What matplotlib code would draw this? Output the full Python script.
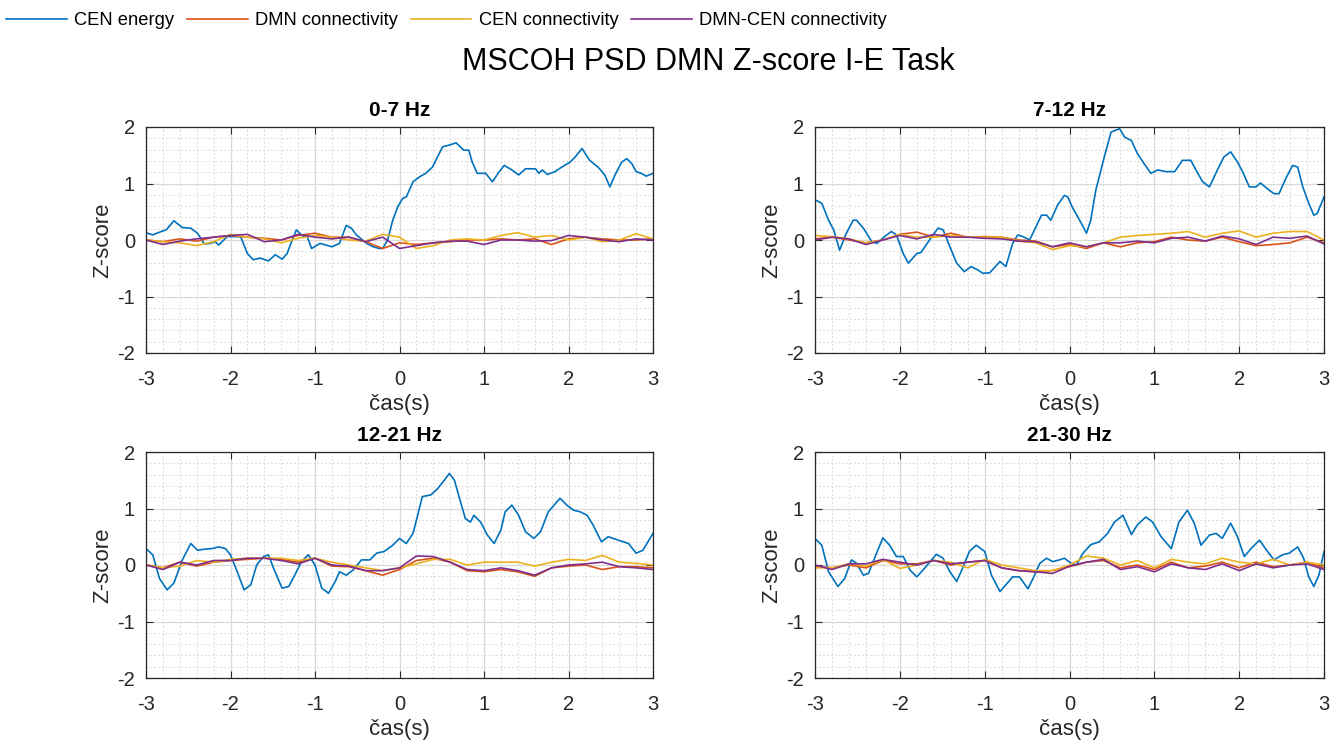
import numpy as np
import matplotlib
matplotlib.use('Agg')
import matplotlib.pyplot as plt
from matplotlib.ticker import MultipleLocator

plt.rcParams['font.family'] = ['Liberation Sans', 'DejaVu Sans']
plt.rcParams['axes.unicode_minus'] = False

"""
Z-score time courses per band, -3..3 s around the event
"""
bands = ['0-7 Hz', '7-12 Hz', '12-21 Hz', '21-30 Hz']
series_names = ['CEN energy', 'DMN connectivity', 'CEN connectivity', 'DMN-CEN connectivity']
colors = ['#0072BD', '#D95319', '#EDB120', '#7E2F8E']

# CEN energy (sampled at its turning points)
t_energy_0 = [-3.0, -2.92, -2.82, -2.76, -2.67, -2.57, -2.47, -2.39, -2.31, -2.24, -2.18, -2.14, -2.04, -1.88,
              -1.8, -1.73, -1.65, -1.55, -1.47, -1.39, -1.33, -1.27, -1.22, -1.14, -1.1, -1.04, -0.94, -0.8,
              -0.71, -0.63, -0.57, -0.51, -0.39, -0.31, -0.24, -0.2, -0.14, -0.08, -0.02, 0.04, 0.08, 0.16,
              0.24, 0.31, 0.39, 0.45, 0.51, 0.59, 0.67, 0.76, 0.82, 0.86, 0.92, 1.02, 1.1, 1.18, 1.24, 1.33,
              1.41, 1.49, 1.61, 1.65, 1.69, 1.75, 1.84, 1.92, 2.02, 2.08, 2.16, 2.25, 2.35, 2.43, 2.49, 2.55,
              2.63, 2.69, 2.75, 2.8, 2.86, 2.92, 3.0]
energy_0 = [0.13, 0.09, 0.15, 0.18, 0.34, 0.22, 0.21, 0.12, -0.07, -0.06, -0.03, -0.09, 0.06, 0.06,
            -0.24, -0.35, -0.32, -0.37, -0.26, -0.34, -0.24, 0.0, 0.18, 0.06, 0.09, -0.15, -0.06, -0.12,
            -0.06, 0.26, 0.21, 0.09, -0.06, -0.12, -0.15, -0.15, 0.0, 0.35, 0.59, 0.74, 0.76, 1.03,
            1.12, 1.18, 1.29, 1.47, 1.65, 1.68, 1.72, 1.59, 1.59, 1.38, 1.18, 1.18, 1.03, 1.21, 1.32, 1.24,
            1.15, 1.26, 1.26, 1.18, 1.24, 1.16, 1.21, 1.29, 1.38, 1.47, 1.62, 1.41, 1.29, 1.15, 0.94, 1.15,
            1.38, 1.44, 1.35, 1.21, 1.18, 1.13, 1.18]

t_energy_1 = [-3.0, -2.92, -2.84, -2.78, -2.71, -2.63, -2.55, -2.51, -2.43, -2.33, -2.27, -2.18, -2.1, -2.04,
              -1.96, -1.9, -1.8, -1.75, -1.65, -1.55, -1.49, -1.41, -1.33, -1.24, -1.16, -1.08, -1.02, -0.94,
              -0.82, -0.75, -0.67, -0.61, -0.55, -0.47, -0.33, -0.27, -0.22, -0.14, -0.06, -0.02, 0.04, 0.12,
              0.2, 0.25, 0.31, 0.41, 0.49, 0.59, 0.65, 0.73, 0.8, 0.88, 0.96, 1.04, 1.14, 1.24, 1.33, 1.43,
              1.49, 1.57, 1.65, 1.75, 1.82, 1.9, 1.98, 2.04, 2.12, 2.2, 2.25, 2.33, 2.41, 2.47, 2.55, 2.63,
              2.69, 2.75, 2.82, 2.88, 2.92, 3.0]
energy_1 = [0.71, 0.65, 0.35, 0.18, -0.18, 0.12, 0.35, 0.35, 0.21, -0.03, -0.06, 0.06, 0.15, 0.09,
            -0.24, -0.41, -0.24, -0.22, 0.0, 0.21, 0.18, -0.12, -0.41, -0.56, -0.47, -0.53, -0.59, -0.58,
            -0.38, -0.47, -0.06, 0.09, 0.06, 0.0, 0.44, 0.44, 0.35, 0.62, 0.79, 0.76, 0.56, 0.35,
            0.12, 0.35, 0.88, 1.47, 1.91, 1.97, 1.82, 1.76, 1.53, 1.35, 1.18, 1.24, 1.21, 1.21, 1.41, 1.41,
            1.24, 1.03, 0.94, 1.26, 1.47, 1.56, 1.38, 1.21, 0.94, 0.94, 1.01, 0.91, 0.82, 0.82, 1.09, 1.32,
            1.29, 0.94, 0.65, 0.44, 0.47, 0.76]

t_energy_2 = [-3.0, -2.92, -2.84, -2.75, -2.67, -2.57, -2.47, -2.39, -2.31, -2.22, -2.14, -2.06, -2.0, -1.92,
              -1.84, -1.76, -1.69, -1.61, -1.55, -1.49, -1.39, -1.31, -1.24, -1.16, -1.08, -1.0, -0.92, -0.84,
              -0.76, -0.71, -0.63, -0.55, -0.45, -0.35, -0.27, -0.18, -0.08, 0.0, 0.08, 0.16, 0.22, 0.27,
              0.37, 0.45, 0.53, 0.59, 0.65, 0.71, 0.78, 0.84, 0.88, 0.96, 1.04, 1.12, 1.2, 1.25, 1.33, 1.41,
              1.49, 1.59, 1.67, 1.76, 1.9, 1.98, 2.06, 2.14, 2.22, 2.29, 2.39, 2.47, 2.59, 2.71, 2.8, 2.88, 3.0]
energy_2 = [0.29, 0.18, -0.24, -0.44, -0.32, 0.09, 0.38, 0.26, 0.28, 0.29, 0.32, 0.29, 0.18, -0.12,
            -0.44, -0.35, 0.0, 0.15, 0.18, -0.06, -0.41, -0.38, -0.18, 0.06, 0.18, 0.0, -0.41, -0.5,
            -0.29, -0.12, -0.18, -0.09, 0.09, 0.09, 0.21, 0.24, 0.35, 0.47, 0.38, 0.56, 0.91, 1.21,
            1.24, 1.35, 1.5, 1.62, 1.5, 1.18, 0.82, 0.76, 0.88, 0.76, 0.53, 0.38, 0.62, 0.94, 1.06, 0.88,
            0.59, 0.47, 0.59, 0.94, 1.18, 1.06, 0.97, 0.94, 0.88, 0.71, 0.41, 0.5, 0.44, 0.38, 0.21, 0.26, 0.56]

t_energy_3 = [-3.0, -2.92, -2.84, -2.73, -2.65, -2.57, -2.51, -2.43, -2.37, -2.29, -2.2, -2.12, -2.04, -1.96,
              -1.88, -1.8, -1.71, -1.57, -1.49, -1.41, -1.33, -1.27, -1.18, -1.1, -1.0, -0.92, -0.82, -0.75,
              -0.67, -0.59, -0.49, -0.43, -0.35, -0.27, -0.2, -0.12, -0.06, 0.02, 0.08, 0.16, 0.25, 0.35,
              0.45, 0.53, 0.63, 0.73, 0.8, 0.9, 0.98, 1.08, 1.2, 1.29, 1.39, 1.47, 1.55, 1.65, 1.73, 1.8,
              1.9, 1.98, 2.06, 2.14, 2.24, 2.31, 2.41, 2.51, 2.59, 2.69, 2.76, 2.82, 2.88, 2.94, 3.0]
energy_3 = [0.47, 0.35, -0.12, -0.38, -0.24, 0.09, 0.03, -0.18, -0.15, 0.15, 0.48, 0.35, 0.15, 0.15,
            -0.09, -0.21, -0.06, 0.19, 0.12, -0.12, -0.29, -0.09, 0.24, 0.35, 0.24, -0.18, -0.47, -0.35,
            -0.21, -0.21, -0.42, -0.24, 0.03, 0.12, 0.06, 0.09, 0.12, 0.03, 0.0, 0.21, 0.36, 0.41,
            0.56, 0.76, 0.88, 0.54, 0.71, 0.85, 0.76, 0.5, 0.29, 0.76, 0.97, 0.74, 0.35, 0.53, 0.56, 0.47,
            0.74, 0.5, 0.15, 0.29, 0.44, 0.29, 0.09, 0.18, 0.21, 0.32, 0.12, -0.21, -0.38, -0.18, 0.24]

# connectivity series, every 0.2 s
t_conn = np.round(np.arange(-3, 3.01, 0.2), 1)

dmn_0 = [0.0, -0.03, 0.02, -0.02, 0.05, 0.08, 0.05, 0.03, 0.0, 0.08, 0.12, 0.05, 0.05, -0.03, -0.15, -0.05,
         -0.08, -0.05, -0.03, 0.0, 0.0, 0.02, 0.0, 0.02, -0.08, 0.02, 0.05, 0.02, 0.0, 0.0, 0.02]
cen_0 = [0.0, -0.03, -0.05, -0.1, -0.03, 0.1, 0.05, 0.02, -0.05, 0.03, 0.08, 0.05, 0.0, -0.02, 0.1, 0.05,
         -0.15, -0.1, 0.0, 0.02, 0.0, 0.08, 0.13, 0.05, 0.08, 0.0, 0.05, -0.03, 0.0, 0.11, 0.02]
dmncen_0 = [0.0, -0.08, -0.02, 0.02, 0.05, 0.08, 0.1, -0.03, 0.0, 0.1, 0.05, 0.02, 0.05, -0.03, 0.05, -0.15,
            -0.1, -0.05, -0.02, -0.02, -0.08, 0.0, 0.0, -0.02, -0.01, 0.08, 0.05, 0.0, -0.03, 0.02, 0.0]

dmn_1 = [0.02, 0.05, 0.0, -0.05, 0.0, 0.1, 0.14, 0.05, 0.12, 0.05, 0.06, 0.05, 0.0, -0.02, -0.12, -0.08,
         -0.15, -0.05, -0.12, -0.05, -0.03, 0.05, 0.0, -0.02, 0.05, -0.03, -0.1, -0.08, -0.05, 0.05, -0.05]
cen_1 = [0.08, 0.06, 0.02, -0.05, 0.0, 0.1, 0.05, 0.05, 0.08, 0.05, 0.05, 0.05, -0.02, -0.05, -0.17, -0.1,
         -0.12, -0.05, 0.05, 0.08, 0.1, 0.12, 0.15, 0.05, 0.12, 0.16, 0.05, 0.12, 0.15, 0.15, 0.0]
dmncen_1 = [0.0, 0.05, 0.02, -0.08, 0.0, 0.08, 0.02, 0.1, 0.05, 0.05, 0.03, 0.02, -0.02, -0.03, -0.12, -0.05,
            -0.12, -0.05, -0.05, -0.02, -0.05, 0.03, 0.05, -0.02, 0.07, 0.02, -0.08, 0.05, 0.03, 0.07, -0.07]

dmn_2 = [0.0, -0.05, 0.05, -0.02, 0.05, 0.08, 0.1, 0.12, 0.1, 0.05, 0.12, -0.02, -0.03, -0.1, -0.18, -0.08,
         0.08, 0.12, 0.05, -0.1, -0.12, -0.08, -0.12, -0.2, -0.05, -0.02, 0.0, -0.08, -0.03, -0.03, -0.05]
cen_2 = [0.0, -0.05, -0.02, 0.08, 0.05, 0.1, 0.12, 0.12, 0.12, 0.08, 0.12, 0.05, 0.0, -0.05, -0.1, -0.05,
         0.02, 0.1, 0.1, 0.0, 0.05, 0.05, 0.05, -0.02, 0.05, 0.1, 0.08, 0.17, 0.05, 0.03, 0.0]
dmncen_2 = [0.0, -0.08, 0.05, 0.0, 0.08, 0.08, 0.12, 0.12, 0.08, 0.02, 0.12, 0.0, -0.02, -0.1, -0.1, -0.05,
            0.16, 0.15, 0.05, -0.08, -0.1, -0.05, -0.1, -0.18, -0.05, 0.0, 0.02, 0.05, -0.03, -0.05, -0.08]

dmn_3 = [-0.02, -0.05, 0.0, -0.05, 0.08, 0.02, 0.02, 0.08, 0.0, 0.05, 0.08, -0.05, -0.1, -0.12, -0.1, -0.03,
         0.05, 0.08, -0.05, 0.0, -0.08, 0.05, -0.05, -0.02, 0.05, -0.05, 0.05, -0.03, 0.0, 0.05, -0.05]
cen_3 = [-0.05, -0.05, 0.02, -0.02, 0.1, -0.06, 0.0, 0.08, 0.05, -0.05, 0.1, 0.0, -0.05, -0.1, -0.1, 0.0,
         0.16, 0.12, 0.0, 0.08, -0.05, 0.1, 0.05, 0.02, 0.12, 0.05, 0.02, 0.1, 0.0, 0.05, 0.0]
dmncen_3 = [0.0, -0.08, 0.02, 0.02, 0.1, 0.05, 0.0, 0.08, 0.02, 0.05, 0.08, -0.05, -0.1, -0.12, -0.15, -0.02,
            0.05, 0.1, -0.08, -0.03, -0.12, 0.02, -0.05, -0.08, 0.02, -0.1, 0.02, -0.05, 0.0, 0.02, -0.08]

t_energy = [t_energy_0, t_energy_1, t_energy_2, t_energy_3]
energy = [energy_0, energy_1, energy_2, energy_3]
dmn = [dmn_0, dmn_1, dmn_2, dmn_3]
cen = [cen_0, cen_1, cen_2, cen_3]
dmncen = [dmncen_0, dmncen_1, dmncen_2, dmncen_3]

fig = plt.figure(figsize=(13.33, 7.42), dpi=100)

# axes boxes in pixels (left, top, right, bottom) -> figure fractions
W, H = 1333.0, 742.0
boxes = [(146, 127, 653, 353), (815, 127, 1324, 353),
         (146, 452, 653, 678), (815, 452, 1324, 678)]

ink = '#262626'
handles = []
for i, (x0, y0, x1, y1) in enumerate(boxes):
    ax = fig.add_axes([x0 / W, 1 - y1 / H, (x1 - x0) / W, (y1 - y0) / H])
    h0, = ax.plot(t_energy[i], energy[i], color=colors[0], lw=1.2)
    h1, = ax.plot(t_conn, dmn[i], color=colors[1], lw=1.2)
    h2, = ax.plot(t_conn, cen[i], color=colors[2], lw=1.2)
    h3, = ax.plot(t_conn, dmncen[i], color=colors[3], lw=1.2)
    if i == 0:
        handles = [h0, h1, h2, h3]

    ax.set_xlim(-3, 3)
    ax.set_ylim(-2, 2)
    ax.xaxis.set_major_locator(MultipleLocator(1))
    ax.yaxis.set_major_locator(MultipleLocator(1))
    ax.xaxis.set_minor_locator(MultipleLocator(0.2))
    ax.yaxis.set_minor_locator(MultipleLocator(0.2))
    ax.grid(which='major', color='#d9d9d9', lw=0.9, ls='-')
    ax.grid(which='minor', color='#d2d2d2', lw=0.7, ls=(0, (1.5, 2.5)))
    ax.set_axisbelow(True)
    ax.tick_params(which='major', direction='in', length=5, width=0.8, colors=ink,
                   top=True, right=True, labelsize=14.5)
    ax.tick_params(axis='x', pad=12.5)
    ax.tick_params(axis='y', pad=8)
    ax.tick_params(which='minor', length=0)
    for s in ax.spines.values():
        s.set_color(ink)
        s.set_linewidth(0.9)
    ax.set_title(bands[i], fontsize=15, fontweight='bold', color='#000000', pad=8)
    ax.set_xlabel('čas(s)', fontsize=16, color=ink, labelpad=3)
    ax.set_ylabel('Z-score', fontsize=16, color=ink, labelpad=3)

fig.text(708 / W, 1 - 62 / H, 'MSCOH PSD DMN Z-score I-E Task', fontsize=22,
         ha='center', va='center', color='#000000')

fig.legend(handles, series_names, loc='upper left', bbox_to_anchor=(0.0, 0.992), ncol=4,
           frameon=False, fontsize=13.2, handlelength=3.3, handletextpad=0.4,
           columnspacing=0.7, borderpad=0.25, borderaxespad=0.1)

fig.savefig('out.png', dpi=100, facecolor='white')
